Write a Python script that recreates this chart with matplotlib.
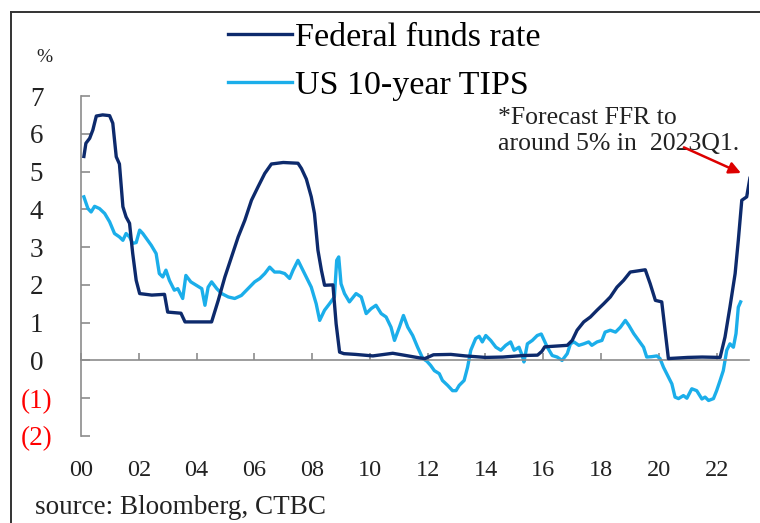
import matplotlib.pyplot as plt
from matplotlib.lines import Line2D

# Federal funds rate (year, %)
ffr_year = [2000.10, 2000.17, 2000.30, 2000.41, 2000.53, 2000.75, 2000.99, 2001.10, 2001.22, 2001.33,
            2001.45, 2001.56, 2001.68, 2001.79, 2001.91, 2002.03, 2002.45, 2002.89, 2003.00, 2003.46,
            2003.60, 2004.52, 2004.75, 2004.98, 2005.21, 2005.44, 2005.67, 2005.90, 2006.13, 2006.36,
            2006.59, 2007.00, 2007.51, 2007.63, 2007.80, 2007.97, 2008.08, 2008.20, 2008.32, 2008.43,
            2008.72, 2008.83, 2008.95, 2009.10, 2009.50, 2010.10, 2010.79, 2011.25, 2011.70, 2011.90,
            2012.20, 2012.80, 2013.30, 2014.00, 2014.60, 2015.30, 2015.80, 2015.95, 2016.05, 2016.83,
            2017.00, 2017.17, 2017.40, 2017.63, 2017.86, 2018.09, 2018.32, 2018.55, 2018.78, 2019.01,
            2019.53, 2019.70, 2019.88, 2020.10, 2020.33, 2021.00, 2021.50, 2022.12, 2022.29, 2022.46,
            2022.64, 2022.75, 2022.87, 2023.04, 2023.15]
ffr_val = [5.40, 5.75, 5.88, 6.10, 6.47, 6.50, 6.48, 6.28, 5.39, 5.20,
           4.07, 3.80, 3.63, 2.83, 2.12, 1.77, 1.73, 1.75, 1.28, 1.25,
           1.02, 1.02, 1.59, 2.21, 2.74, 3.27, 3.71, 4.24, 4.60, 4.95,
           5.20, 5.24, 5.22, 5.08, 4.80, 4.33, 3.89, 2.92, 2.39, 1.99,
           2.00, 0.97, 0.22, 0.18, 0.16, 0.12, 0.19, 0.13, 0.07, 0.05,
           0.15, 0.16, 0.12, 0.08, 0.09, 0.13, 0.14, 0.24, 0.36, 0.40,
           0.53, 0.80, 1.02, 1.15, 1.33, 1.50, 1.68, 1.94, 2.12, 2.34,
           2.40, 2.03, 1.59, 1.55, 0.05, 0.08, 0.09, 0.08, 0.62, 1.41,
           2.30, 3.18, 4.24, 4.33, 4.82]

# US 10-year TIPS yield (year, %)
tips_year = [2000.10, 2000.24, 2000.35, 2000.47, 2000.64, 2000.82, 2000.99, 2001.16, 2001.33, 2001.45,
             2001.56, 2001.68, 2001.79, 2001.91, 2002.03, 2002.14, 2002.26, 2002.43, 2002.60, 2002.71,
             2002.83, 2002.94, 2003.06, 2003.23, 2003.35, 2003.52, 2003.63, 2003.80, 2004.01, 2004.18,
             2004.29, 2004.40, 2004.52, 2004.70, 2004.87, 2005.10, 2005.32, 2005.55, 2005.73, 2005.90,
             2006.01, 2006.19, 2006.36, 2006.53, 2006.70, 2006.88, 2007.05, 2007.22, 2007.34, 2007.51,
             2007.68, 2007.86, 2007.97, 2008.14, 2008.26, 2008.43, 2008.60, 2008.77, 2008.85, 2008.92,
             2009.00, 2009.12, 2009.29, 2009.52, 2009.70, 2009.87, 2010.04, 2010.21, 2010.39, 2010.56,
             2010.73, 2010.85, 2011.02, 2011.16, 2011.31, 2011.48, 2011.65, 2011.83, 2011.97, 2012.10,
             2012.23, 2012.40, 2012.51, 2012.69, 2012.86, 2012.98, 2013.09, 2013.26, 2013.38, 2013.49,
             2013.66, 2013.78, 2013.89, 2014.01, 2014.18, 2014.36, 2014.53, 2014.70, 2014.87, 2014.99,
             2015.16, 2015.27, 2015.33, 2015.45, 2015.62, 2015.79, 2015.93, 2016.02, 2016.14, 2016.31,
             2016.48, 2016.65, 2016.83, 2016.94, 2017.06, 2017.23, 2017.40, 2017.57, 2017.68, 2017.86,
             2018.03, 2018.14, 2018.32, 2018.50, 2018.67, 2018.84, 2018.96, 2019.13, 2019.30, 2019.47,
             2019.58, 2019.75, 2019.93, 2020.04, 2020.16, 2020.33, 2020.45, 2020.56, 2020.68, 2020.85,
             2020.97, 2021.14, 2021.31, 2021.49, 2021.60, 2021.72, 2021.89, 2022.00, 2022.12, 2022.23,
             2022.35, 2022.46, 2022.58, 2022.67, 2022.75, 2022.83]
tips_val = [4.33, 4.02, 3.93, 4.08, 4.02, 3.89, 3.67, 3.36, 3.27, 3.18,
            3.36, 3.27, 3.10, 3.12, 3.45, 3.36, 3.23, 3.05, 2.83, 2.30,
            2.21, 2.39, 2.12, 1.86, 1.90, 1.64, 2.25, 2.08, 1.98, 1.90,
            1.46, 1.94, 2.08, 1.90, 1.77, 1.68, 1.64, 1.72, 1.86, 1.99,
            2.08, 2.17, 2.30, 2.47, 2.34, 2.34, 2.30, 2.17, 2.39, 2.65,
            2.39, 2.12, 1.94, 1.50, 1.06, 1.33, 1.50, 1.68, 2.65, 2.74,
            2.03, 1.77, 1.55, 1.77, 1.68, 1.24, 1.37, 1.46, 1.24, 1.15,
            0.88, 0.53, 0.88, 1.19, 0.88, 0.66, 0.35, 0.05, -0.02, -0.13,
            -0.27, -0.35, -0.53, -0.66, -0.80, -0.80, -0.66, -0.53, -0.18, 0.27,
            0.58, 0.64, 0.49, 0.66, 0.53, 0.35, 0.27, 0.40, 0.49, 0.27,
            0.35, 0.13, -0.04, 0.44, 0.53, 0.66, 0.70, 0.55, 0.35, 0.13,
            0.09, 0.00, 0.18, 0.44, 0.49, 0.40, 0.44, 0.49, 0.40, 0.49,
            0.53, 0.75, 0.80, 0.75, 0.88, 1.06, 0.93, 0.71, 0.53, 0.35,
            0.09, 0.10, 0.12, 0.05, -0.18, -0.44, -0.62, -0.97, -1.01, -0.93,
            -1.00, -0.75, -0.80, -1.02, -0.97, -1.06, -1.01, -0.80, -0.53, -0.27,
            0.27, 0.44, 0.35, 0.71, 1.41, 1.55]

x_ticks = [2000, 2002, 2004, 2006, 2008, 2010, 2012, 2014, 2016, 2018, 2020, 2022]
x_labels = ['00', '02', '04', '06', '08', '10', '12', '14', '16', '18', '20', '22']
y_ticks = [7, 6, 5, 4, 3, 2, 1, 0, -1, -2]
y_labels = ['7', '6', '5', '4', '3', '2', '1', '0', '(1)', '(2)']

navy = '#0D2A6C'
sky = '#1BAEEA'
grey = '#8C8C8C'
serif = 'Liberation Serif'

fig = plt.figure(figsize=(7.6, 5.23), dpi=100)
ax = fig.add_axes([81/760, 1 - 436/523, 668/760, 340/523])

ax.plot(ffr_year, ffr_val, color=navy, lw=2.4, label='Federal funds rate', zorder=3)
ax.plot(tips_year, tips_val, color=sky, lw=2.4, label='US 10-year TIPS', zorder=2)

ax.set_xlim(2000.07, 2023.12)
ax.set_ylim(-2, 7)

for s in ['top', 'right']:
    ax.spines[s].set_visible(False)
ax.spines['left'].set_color(grey)
ax.spines['left'].set_linewidth(1.2)
ax.spines['bottom'].set_position(('data', 0))
ax.spines['bottom'].set_color(grey)
ax.spines['bottom'].set_linewidth(1.2)

ax.set_xticks(x_ticks)
ax.tick_params(axis='x', direction='in', length=5, width=1.2, color=grey, labelbottom=False)
ax.set_yticks(y_ticks)
ax.set_yticklabels(y_labels, family=serif, fontsize=19.5, ha='center')
ax.tick_params(axis='y', direction='in', length=6.5, width=1.2, color=grey, pad=32)
for lbl, v in zip(ax.get_yticklabels(), y_ticks):
    lbl.set_color('#FF0000' if v < 0 else '#222222')

sec = ax.secondary_xaxis('bottom')
sec.set_xticks(x_ticks)
sec.set_xticklabels(x_labels, family=serif, fontsize=17.5, color='#222222')
sec.tick_params(length=0, pad=17)
sec.spines['bottom'].set_visible(False)

fig.text(44/760, 1 - 57/523, '%', family=serif, fontsize=14, ha='center', va='center', color='#222222')

fig.legend(loc='upper left', bbox_to_anchor=(228/760, 1 - 22/523), frameon=False,
           prop={'family': serif, 'size': 24.5}, handlelength=1.88, handletextpad=0.1,
           labelspacing=0.52, borderaxespad=0, borderpad=0)

ax.text(2014.42, 6.08, '*Forecast FFR to\naround 5% in  2023Q1.', family=serif, fontsize=18.5,
        ha='left', va='center', linespacing=1.25, color='#222222')
ax.annotate('', xy=(2022.93, 4.93), xytext=(2020.78, 5.67),
            arrowprops=dict(arrowstyle='-|>,head_length=0.7,head_width=0.35', color='#DD0000', lw=1.8))

fig.text(35/760, 1 - 508/523, 'source: Bloomberg, CTBC', family=serif, fontsize=19.5,
         ha='left', va='center', color='#222222')

# frame around the chart
fig.add_artist(Line2D([11/760, 11/760], [0, 1 - 12/523], color='#333333', lw=1.4))
fig.add_artist(Line2D([11/760, 1], [1 - 12/523, 1 - 12/523], color='#333333', lw=1.4))

fig.savefig('out.png', dpi=100)
